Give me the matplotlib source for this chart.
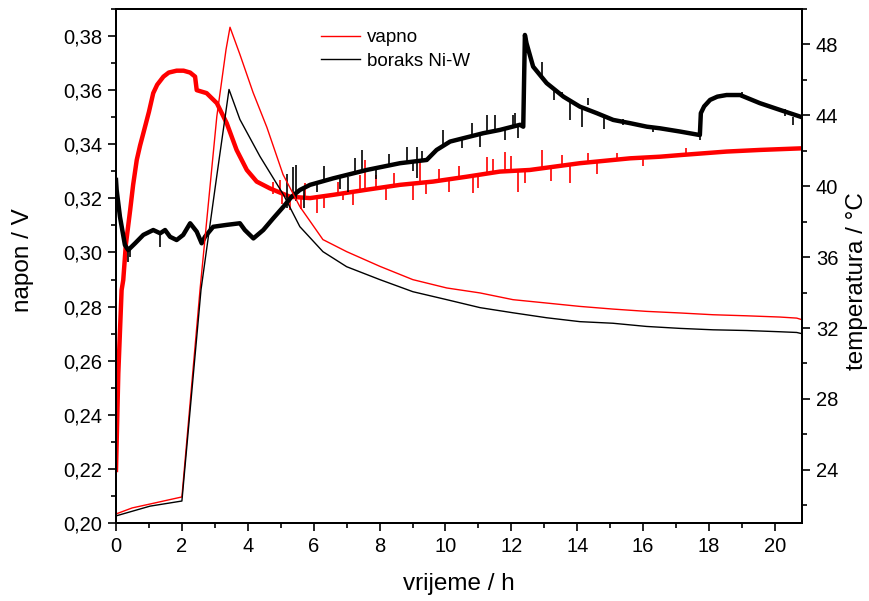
import matplotlib

matplotlib.use('agg')
import matplotlib.pyplot as plt
from matplotlib.ticker import MultipleLocator, FuncFormatter

plt.rcParams['font.family'] = ['Liberation Sans', 'DejaVu Sans']

# napon (V) - vapno, thick noisy line
t_nap_vap = [0.0, 0.07, 0.17, 0.22, 0.30, 0.43, 0.52, 0.63, 0.73, 0.83, 1.0, 1.13, 1.25, 1.44,
             1.6, 1.84, 2.05, 2.25, 2.40, 2.45, 2.75, 3.06, 3.36, 3.66, 3.97, 4.27, 4.67, 5.28,
             5.89, 6.59, 7.61, 8.62, 9.62, 10.64, 11.65, 12.56, 14.08, 15.6, 16.51, 17.12,
             18.53, 19.54, 20.82]
nap_vap = [0.2196, 0.2553, 0.2861, 0.2898, 0.3030, 0.3157, 0.3250, 0.3342, 0.3395, 0.3441,
           0.3520, 0.3589, 0.3620, 0.3650, 0.3665, 0.3672, 0.3672, 0.3665, 0.3650, 0.3600,
           0.3589, 0.3552, 0.3478, 0.3379, 0.3305, 0.3262, 0.3237, 0.3206, 0.3201, 0.3213,
           0.3232, 0.3250, 0.3262, 0.3280, 0.3299, 0.3305, 0.3330, 0.3348, 0.3354, 0.3360,
           0.3373, 0.3379, 0.3385]

# napon (V) - boraks Ni-W, thick noisy line
t_nap_bor = [0.0, 0.02, 0.12, 0.27, 0.37, 0.58, 0.83, 1.13, 1.34, 1.49, 1.64, 1.84, 2.04,
             2.25, 2.45, 2.60, 2.70, 2.95, 3.36, 3.76, 3.91, 4.17, 4.47, 4.77, 5.08, 5.33,
             5.58, 5.89, 6.59, 7.61, 8.62, 9.43, 9.73, 10.14, 11.15, 11.65, 12.26, 12.36,
             12.41, 12.46, 12.66, 13.07, 13.58, 14.08, 14.59, 15.09, 15.6, 16.11, 16.51,
             17.12, 17.72, 17.75, 17.85, 18.03, 18.25, 18.53, 18.94, 19.54, 20.15, 20.82]
nap_bor = [0.3268, 0.3231, 0.3132, 0.3028, 0.3009, 0.3034, 0.3065, 0.3083, 0.3071, 0.3083,
           0.3058, 0.3046, 0.3065, 0.3108, 0.3077, 0.3034, 0.3058, 0.3095, 0.3102, 0.3108,
           0.3083, 0.3052, 0.3083, 0.3126, 0.3169, 0.3206, 0.3231, 0.3250, 0.3274, 0.3305,
           0.3330, 0.3342, 0.3379, 0.3410, 0.3441, 0.3453, 0.3472, 0.3465, 0.3804, 0.3773,
           0.3687, 0.3626, 0.3576, 0.3539, 0.3515, 0.3490, 0.3478, 0.3465, 0.3459, 0.3447,
           0.3434, 0.3515, 0.3540, 0.3564, 0.3576, 0.3582, 0.3582, 0.3552, 0.3527, 0.3500]

# noise spikes: time, low, high (V)
sp_vap_t = [4.75, 4.98, 5.05, 5.28, 5.60, 5.75, 6.09, 6.30, 6.75, 6.90, 7.20, 7.40, 7.56,
            7.90, 8.20, 8.45, 9.02, 9.23, 9.40, 9.80, 10.10, 10.40, 10.84, 11.00, 11.25,
            11.45, 11.81, 12.00, 12.21, 12.40, 12.92, 13.20, 13.53, 13.78, 14.33, 14.60,
            15.20, 16.00, 17.30]
sp_vap_lo = [0.3215, 0.3225, 0.3180, 0.3157, 0.3160, 0.3200, 0.3145, 0.3165, 0.3213, 0.3194,
             0.3175, 0.3225, 0.3230, 0.3238, 0.3195, 0.3248, 0.3194, 0.3255, 0.3215, 0.3262,
             0.3225, 0.3272, 0.3219, 0.3240, 0.3290, 0.3292, 0.3296, 0.3302, 0.3225, 0.3255,
             0.3315, 0.3265, 0.3320, 0.3256, 0.3335, 0.3290, 0.3338, 0.3318, 0.3360]
sp_vap_hi = [0.3262, 0.3268, 0.3225, 0.3210, 0.3205, 0.3255, 0.3201, 0.3210, 0.3260, 0.3213,
             0.3222, 0.3287, 0.3342, 0.3285, 0.3243, 0.3295, 0.3255, 0.3336, 0.3260, 0.3310,
             0.3270, 0.3320, 0.3285, 0.3285, 0.3354, 0.3345, 0.3373, 0.3355, 0.3302, 0.3300,
             0.3379, 0.3310, 0.3360, 0.3320, 0.3367, 0.3335, 0.3368, 0.3350, 0.3385]

sp_bor_t = [0.37, 0.42, 1.34, 5.20, 5.36, 5.45, 5.70, 6.09, 6.30, 6.80, 7.05, 7.25, 7.46,
            7.90, 8.30, 8.82, 9.00, 9.13, 9.30, 9.93, 10.50, 10.80, 11.05, 11.25, 11.50,
            11.80, 12.05, 12.11, 12.21, 12.92, 13.30, 13.53, 13.78, 14.13, 14.33, 14.80,
            15.40, 16.30, 17.72, 19.00, 20.30, 20.55]
sp_bor_lo = [0.2966, 0.2985, 0.3021, 0.3165, 0.3206, 0.3190, 0.3165, 0.3225, 0.3262, 0.3235,
             0.3225, 0.3295, 0.3305, 0.3270, 0.3318, 0.3335, 0.3300, 0.3274, 0.3338, 0.3393,
             0.3385, 0.3433, 0.3391, 0.3441, 0.3447, 0.3415, 0.3466, 0.3470, 0.3422, 0.3637,
             0.3565, 0.3580, 0.3490, 0.3465, 0.3545, 0.3455, 0.3470, 0.3445, 0.3416, 0.3570,
             0.3505, 0.3471]
sp_bor_hi = [0.3009, 0.3009, 0.3071, 0.3290, 0.3317, 0.3323, 0.3235, 0.3257, 0.3320, 0.3278,
             0.3280, 0.3350, 0.3379, 0.3310, 0.3365, 0.3391, 0.3338, 0.3391, 0.3375, 0.3453,
             0.3422, 0.3478, 0.3441, 0.3508, 0.3508, 0.3455, 0.3510, 0.3515, 0.3470, 0.3705,
             0.3605, 0.3594, 0.3564, 0.3539, 0.3570, 0.3505, 0.3495, 0.3465, 0.3434, 0.3595,
             0.3530, 0.3500]

# temperatura (°C) - thin lines
t_tem_vap = [0, 0.49, 1.03, 2.0, 2.55, 3.06, 3.34, 3.46, 3.76, 4.16, 4.58, 5.07, 5.58, 6.28,
             7.0, 8.01, 9.01, 10.04, 11.05, 12.05, 13.07, 14.08, 15.08, 16.1, 17.12, 18.12,
             19.14, 20.15, 20.66, 20.82]
tem_vap = [21.51, 21.85, 22.07, 22.47, 34.16, 43.94, 47.72, 48.97, 47.44, 45.29, 43.32, 40.66,
           38.85, 36.99, 36.31, 35.48, 34.73, 34.26, 33.98, 33.60, 33.41, 33.22, 33.07, 32.94,
           32.85, 32.75, 32.69, 32.62, 32.56, 32.47]

t_tem_bor = [0, 1.03, 2.0, 2.58, 3.06, 3.43, 3.76, 4.37, 5.08, 5.58, 6.28, 7.0, 8.01, 9.01,
             10.04, 11.05, 12.05, 13.07, 14.08, 15.08, 16.1, 17.12, 18.12, 19.14, 20.15,
             20.66, 20.82]
tem_bor = [21.40, 21.95, 22.24, 34.16, 40.60, 45.46, 43.77, 41.68, 39.53, 37.72, 36.31, 35.46,
           34.73, 34.05, 33.60, 33.15, 32.86, 32.58, 32.36, 32.27, 32.09, 31.98, 31.90, 31.86,
           31.79, 31.75, 31.68]

fig = plt.figure(figsize=(8.69, 6.01), dpi=100)
ax = fig.add_axes([116 / 869, 1 - 523 / 601, 686 / 869, 514 / 601])
ax2 = ax.twinx()

ax.plot(t_nap_vap, nap_vap, color='#ff0000', lw=3.2, solid_joinstyle='round')
ax.vlines(sp_vap_t, sp_vap_lo, sp_vap_hi, color='#ff0000', lw=1.2)
ax.plot(t_nap_bor, nap_bor, color='black', lw=3.2, solid_joinstyle='round')
ax.vlines(sp_bor_t, sp_bor_lo, sp_bor_hi, color='black', lw=1.2)

ax2.plot(t_tem_vap, tem_vap, color='#ff0000', lw=1.0, label='vapno')
ax2.plot(t_tem_bor, tem_bor, color='black', lw=1.0, label='boraks Ni-W')

ax.set_xlim(0, 20.82)
ax.set_ylim(0.20, 0.39)
ax2.set_ylim(21.0, 50.0)

ax.xaxis.set_major_locator(MultipleLocator(2))
ax.xaxis.set_minor_locator(MultipleLocator(1))
ax.yaxis.set_major_locator(MultipleLocator(0.02))
ax.yaxis.set_minor_locator(MultipleLocator(0.01))
ax.yaxis.set_major_formatter(FuncFormatter(lambda v, p: ('%.2f' % v).replace('.', ',')))
ax2.yaxis.set_major_locator(MultipleLocator(4))
ax2.yaxis.set_minor_locator(MultipleLocator(2))

for a in (ax, ax2):
    a.tick_params(which='major', direction='out', length=6, width=1.2, labelsize=14.5, pad=4)
    a.tick_params(which='minor', direction='out', length=3.5, width=1.2)
    for s in a.spines.values():
        s.set_linewidth(1.4)
ax.tick_params(top=False, right=False)
ax.tick_params(which='minor', top=False, right=False)

fig.text(23 / 869, 1 - 260 / 601, 'napon / V', rotation=90, ha='center', va='center', fontsize=17.5)
fig.text(857 / 869, 1 - 281 / 601, 'temperatura / °C', rotation=90, ha='center', va='center',
         fontsize=17.5)
fig.text(459 / 869, 1 - 584 / 601, 'vrijeme / h', ha='center', va='center', fontsize=17.5)

ax2.legend(loc='upper left', bbox_to_anchor=(0.2988, 0.961), frameon=False, fontsize=13.5,
           borderpad=0, borderaxespad=0, handlelength=2.1, handletextpad=0.35, labelspacing=0.36)

fig.savefig('out.png', dpi=100)
